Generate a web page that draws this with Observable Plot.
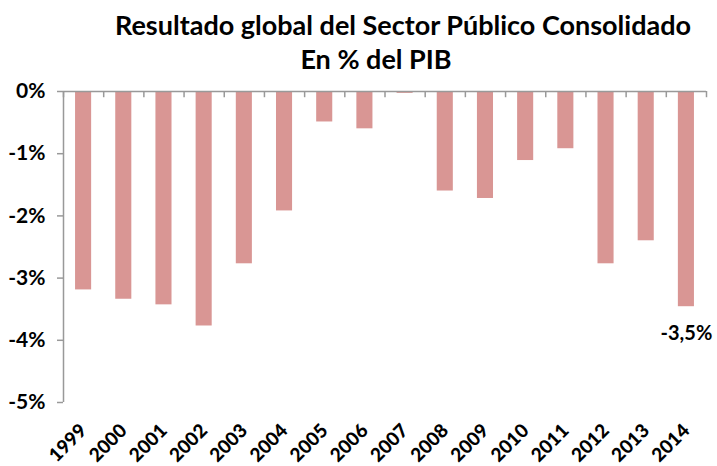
<!DOCTYPE html>
<html>
<head>
<meta charset="utf-8">
<script src="https://cdn.jsdelivr.net/npm/d3@7"></script>
<script src="https://cdn.jsdelivr.net/npm/@observablehq/plot@0.6"></script>
<style>
  body { margin: 0; background: #fff; font-family: Lato, "Open Sans", sans-serif; }
  #wrap { width: 717px; height: 466px; position: relative; }
  .t1, .t2 { font-weight: 700; font-size: 27px; color: #000; white-space: nowrap; position: absolute; line-height: 32px; }
  .t1 { left: 0; width: 806px; text-align: center; top: 9px; }
  .t2 { left: 0; width: 752px; text-align: center; top: 43px; }
  #chart { position: absolute; top: 80px; left: 0; }
</style>
</head>
<body>
<div id="wrap">
  <div class="t1">Resultado global del Sector Público Consolidado</div>
  <div class="t2">En % del PIB</div>
  <div id="chart"></div>
</div>
<script>
const years = [1999, 2000, 2001, 2002, 2003, 2004, 2005, 2006, 2007, 2008, 2009, 2010, 2011, 2012, 2013, 2014];
const values = [-3.19, -3.34, -3.43, -3.77, -2.77, -1.92, -0.49, -0.60, -0.03, -1.60, -1.72, -1.11, -0.92, -2.77, -2.40, -3.46];
const yTicks = [0, -1, -2, -3, -4, -5];
const labelYear = 2014;
const labelText = "-3,5%";

const data = years.map((y, i) => ({year: y, value: values[i]}));
const boundaries = [...years.map(y => y - 0.5), years[years.length - 1] + 0.5];

const chart = Plot.plot({
  width: 717,
  height: 386,
  marginTop: 11,
  marginBottom: 64,
  marginLeft: 63,
  marginRight: 11,
  style: {fontFamily: "Lato, 'Open Sans', sans-serif", fontWeight: 700, color: "#000", background: "#fff", overflow: "visible"},
  x: {domain: [years[0] - 0.5, years[years.length - 1] + 0.5], axis: null},
  y: {domain: [-5, 0], axis: null},
  marks: [
    Plot.rectY(data, {x1: d => d.year - 0.2, x2: d => d.year + 0.2, y1: 0, y2: "value", fill: "#D99694"}),
    Plot.ruleY([0], {stroke: "#999", strokeWidth: 1.5}),
    Plot.ruleX([years[0] - 0.5], {y1: -5, y2: 0, stroke: "#999", strokeWidth: 1.5}),
    Plot.ruleX(boundaries, {x: d => d, y1: 0, y2: -0.1, stroke: "#999", strokeWidth: 1.5}),
    Plot.axisY(yTicks, {anchor: "left", label: null, tickSize: 6, tickPadding: 12, stroke: "#999", strokeWidth: 1.5,
      tickFormat: d => d + "%", fontSize: 21, fontWeight: 700, fill: "#000"}),
    Plot.axisX(years, {anchor: "bottom", label: null, tickSize: 0, tickRotate: -45, tickPadding: 25,
      tickFormat: d => String(d), fontSize: 19, fontWeight: 900, fill: "#000"}),
    Plot.text(data.filter(d => d.year === labelYear), {x: "year", y: "value", text: () => labelText,
      dy: 27, fontSize: 20, fontWeight: 700, fill: "#000"})
  ]
});
document.getElementById("chart").appendChild(chart);
</script>
</body>
</html>
